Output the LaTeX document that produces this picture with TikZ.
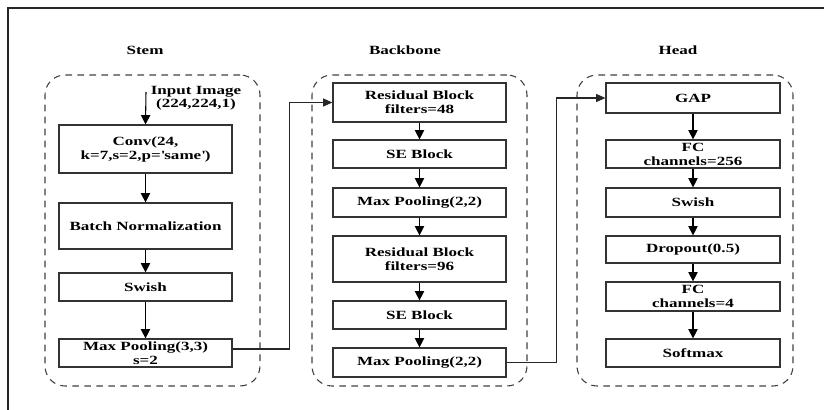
\documentclass[tikz,border=0pt]{standalone}
\usepackage{fontspec}
\setmainfont{Liberation Serif}[FakeStretch=1.36]
\usetikzlibrary{arrows.meta,fit}
\begin{document}
\begin{tikzpicture}[x=0.75pt,y=-0.75pt,
  blk/.style={draw=black!80,line width=0.9pt,fill=white,inner sep=0pt,align=center,
    minimum width=129.75pt,font=\fontsize{9.4}{10.5}\selectfont\bfseries},
  hblk/.style={blk,minimum width=130.5pt},
  grp/.style={draw=black!75,dash pattern=on 5pt off 4pt,line width=0.8pt,rounded corners=15pt,inner sep=0pt},
  ttl/.style={font=\fontsize{9.4}{10.5}\selectfont\bfseries},
  arr/.style={draw=black,line width=0.8pt,-{Triangle[length=7pt,width=7pt]}},
  lnk/.style={draw=black!85,line width=0.8pt,-{Triangle[length=7pt,width=6pt]}}]
\useasboundingbox (0,0) rectangle (824,410);
% outer frame
\draw[line width=1.1pt,black!85] (8,410) -- (8,8) -- (824,8);
% titles
\node[ttl] (tstem) at (145,50) {Stem};
\node[ttl] (tback) at (405,50) {Backbone};
\node[ttl] (thead) at (678,50) {Head};
% groups
\node[grp,fit={(45,75)(260,386)}] (gstem) {};
\node[grp,fit={(312,75)(527,386)}] (gback) {};
\node[grp,fit={(577,75)(793,386)}] (ghead) {};
% stem
\coordinate (in) at (146,92);
\node[ttl,align=center,font=\fontsize{9.4}{10}\selectfont\bfseries] (intxt) at (196,98) {Input Image\\(224,224,1)};
\node[blk,minimum height=36pt] (conv) at (145.5,149) {Conv(24,\\k=7,s=2,p=\textquotesingle same\textquotesingle)};
\node[blk,minimum height=34.5pt] (bn) at (145.5,226) {Batch Normalization};
\node[blk,minimum height=21pt] (sw1) at (145.5,287) {Swish};
\node[blk,minimum height=21pt] (mp1) at (145.5,353) {Max Pooling(3,3)\\s=2};
% backbone
\node[blk,minimum height=29.25pt] (rb1) at (419.5,102.5) {Residual Block\\filters=48};
\node[blk,minimum height=21pt] (se1) at (419.5,154) {SE Block};
\node[blk,minimum height=21.75pt] (mp2) at (419.5,202.5) {Max Pooling(2,2)};
\node[blk,minimum height=34.5pt] (rb2) at (419.5,259) {Residual Block\\filters=96};
\node[blk,minimum height=21pt] (se2) at (419.5,315) {SE Block};
\node[blk,minimum height=21.75pt] (mp3) at (419.5,362.5) {Max Pooling(2,2)};
% head
\node[hblk,minimum height=22.5pt] (gap) at (693,98) {GAP};
\node[hblk,minimum height=21pt] (fc1) at (693,154) {FC\\channels=256};
\node[hblk,minimum height=21.75pt] (sw2) at (693,202.5) {Swish};
\node[hblk,minimum height=20.25pt] (do) at (693,249.5) {Dropout(0.5)};
\node[hblk,minimum height=21.75pt] (fc2) at (693,296.5) {FC\\channels=4};
\node[hblk,minimum height=21pt] (sm) at (693,353) {Softmax};
% arrows
\draw[arr] (in) -- (conv.north);
\draw[arr] (conv) -- (bn);
\draw[arr] (bn) -- (sw1);
\draw[arr] (sw1) -- (mp1);
\draw[arr] (rb1) -- (se1);
\draw[arr] (se1) -- (mp2);
\draw[arr] (mp2) -- (rb2);
\draw[arr] (rb2) -- (se2);
\draw[arr] (se2) -- (mp3);
\draw[arr] (gap) -- (fc1);
\draw[arr] (fc1) -- (sw2);
\draw[arr] (sw2) -- (do);
\draw[arr] (do) -- (fc2);
\draw[arr] (fc2) -- (sm);
\draw[lnk] ([yshift=3pt]mp1.east) -- ++(57,0) |- (rb1.west);
\draw[lnk] (mp3.east) -- ++(50,0) |- (gap.west);
\end{tikzpicture}
\end{document}
